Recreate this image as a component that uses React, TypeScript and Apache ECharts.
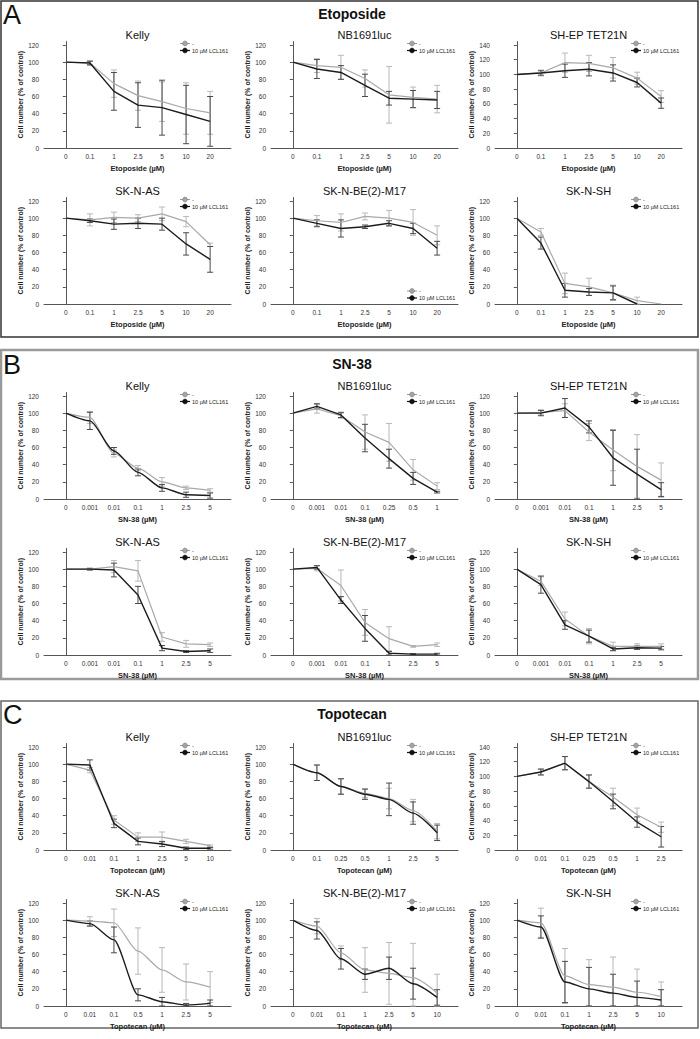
import React, { useEffect, useRef } from "react";
import * as echarts from "echarts";

// ---------- categories (x tick labels) ----------
const etoCats = ["0", "0.1", "1", "2.5", "5", "10", "20"];
const snCats = ["0", "0.001", "0.01", "0.1", "1", "2.5", "5"];
const snNbCats = ["0", "0.001", "0.01", "0.1", "0.25", "0.5", "1"];
const topoCats = ["0", "0.01", "0.1", "1", "2.5", "5", "10"];
const topoNbCats = ["0", "0.1", "0.25", "0.5", "1", "2.5", "5"];
const topoShepCats = ["0", "0.01", "0.1", "0.25", "0.5", "1", "2.5"];
const topoAsCats = ["0", "0.01", "0.1", "0.5", "1", "2.5", "5"];

// ---------- A: Etoposide ----------
const aKellyCtrl = [100, 99, 75, 61, 54, 46, 41];
const aKellyCtrlErr = [0, 3, 16, 17, 23, 30, 25];
const aKellyLcl = [100, 99, 66, 50, 47, 39, 31];
const aKellyLclErr = [0, 2, 22, 26, 32, 34, 29];

const aNbCtrl = [100, 96, 94, 81, 62, 59, 57];
const aNbCtrlErr = [0, 8, 14, 10, 33, 12, 16];
const aNbLcl = [100, 92, 88, 73, 58, 57, 56];
const aNbLclErr = [0, 11, 8, 13, 8, 10, 10];

const aShepCtrl = [100, 102, 116, 115, 109, 95, 70];
const aShepCtrlErr = [0, 4, 13, 11, 14, 8, 8];
const aShepLcl = [100, 102, 105, 107, 102, 89, 61];
const aShepLclErr = [0, 3, 9, 9, 11, 6, 7];

const aAsCtrl = [100, 98, 101, 100, 105, 96, 69];
const aAsCtrlErr = [0, 7, 6, 4, 8, 6, 2];
const aAsLcl = [100, 97, 93, 94, 93, 70, 52];
const aAsLclErr = [0, 2, 6, 6, 7, 13, 15];

const aBeCtrl = [100, 97, 95, 102, 100, 95, 80];
const aBeCtrlErr = [0, 6, 10, 4, 9, 15, 11];
const aBeLcl = [100, 94, 88, 90, 94, 88, 65];
const aBeLclErr = [0, 4, 10, 2, 3, 6, 8];

const aShCtrl = [100, 84, 24, 20, 13, 4, 0];
const aShCtrlErr = [0, 4, 12, 10, 9, 4, 0];
const aShLcl = [100, 71, 16, 14, 13, 0, null];
const aShLclErr = [0, 7, 8, 4, 8, 0, 0];

// ---------- B: SN-38 ----------
const bKellyCtrl = [100, 95, 53, 36, 20, 13, 10];
const bKellyCtrlErr = [0, 7, 4, 3, 5, 2, 2];
const bKellyLcl = [100, 91, 56, 31, 13, 5, 4];
const bKellyLclErr = [0, 10, 4, 4, 4, 3, 3];

const bNbCtrl = [100, 105, 97, 78, 66, 34, 15];
const bNbCtrlErr = [0, 5, 3, 20, 22, 12, 4];
const bNbLcl = [100, 108, 98, 71, 47, 24, 8];
const bNbLclErr = [0, 3, 3, 16, 11, 7, 1];

const bShepCtrl = [100, 101, 103, 78, 57, 38, 22];
const bShepCtrlErr = [0, 3, 8, 10, 24, 37, 20];
const bShepLcl = [100, 100, 106, 84, 48, 29, 11];
const bShepLclErr = [0, 3, 11, 7, 32, 29, 8];

const bAsCtrl = [100, 100, 103, 98, 21, 13, 12];
const bAsCtrlErr = [0, 1, 7, 12, 5, 4, 2];
const bAsLcl = [100, 100, 99, 70, 8, 4, 5];
const bAsLclErr = [0, 1, 8, 10, 3, 1, 2];

const bBeCtrl = [100, 101, 81, 38, 19, 10, 12];
const bBeCtrlErr = [0, 3, 18, 15, 14, 1, 2];
const bBeLcl = [100, 102, 64, 31, 2, 1, 1];
const bBeLclErr = [0, 2, 4, 15, 2, 0.5, 1];

const bShCtrl = [100, 86, 42, 22, 10, 10, 10];
const bShCtrlErr = [0, 5, 8, 9, 5, 3, 3];
const bShLcl = [100, 82, 35, 22, 7, 8.5, 8];
const bShLclErr = [0, 10, 5, 7, 2, 2, 2];

// ---------- C: Topotecan ----------
const cKellyCtrl = [100, 93, 35, 15, 15, 10, 5];
const cKellyCtrlErr = [0, 3, 5, 5, 6, 2.5, 1];
const cKellyLcl = [100, 99, 31, 10, 7, 2, 2];
const cKellyLclErr = [0, 6, 5, 4, 3, 1.5, 1];

const cNbCtrl = [100, 90, 74, 66, 60, 46, 22];
const cNbCtrlErr = [0, 9, 9, 5, 12, 13, 9];
const cNbLcl = [100, 90, 74, 65, 59, 43, 20];
const cNbLclErr = [0, 9, 9, 6, 19, 13, 9];

const cShepCtrl = [100, 106, 118, 93, 72, 48, 31];
const cShepCtrlErr = [0, 4, 9, 9, 12, 9, 7];
const cShepLcl = [100, 106, 118, 93, 66, 38, 18];
const cShepLclErr = [0, 4, 9, 9, 10, 7, 14];

const cAsCtrl = [100, 99, 97, 64, 42, 28, 22];
const cAsCtrlErr = [0, 5, 16, 27, 26, 21, 18];
const cAsLcl = [100, 96, 77, 13, 5, 1, 3];
const cAsLclErr = [0, 3, 15, 7, 5, 2, 4];

const cBeCtrl = [100, 93, 62, 42, 38, 33, 15];
const cBeCtrlErr = [0, 9, 8, 26, 36, 40, 22];
const cBeLcl = [100, 88, 55, 37, 44, 26, 10];
const cBeLclErr = [0, 10, 12, 6, 13, 18, 9];

const cShCtrl = [100, 97, 35, 25, 22, 16, 11];
const cShCtrlErr = [0, 17, 32, 29, 35, 27, 17];
const cShLcl = [100, 92, 28, 20, 15, 10, 7];
const cShLclErr = [0, 13, 24, 25, 22, 19, 12];

const sectionLetters = ["A", "B", "C"];
const sectionTitles = ["Etoposide", "SN-38", "Topotecan"];
const ctrlName = "-";
const lclName = "10 µM LCL161";
const yName = "Cell number (% of control)";

type Panel = {
  title: string; cats: string[]; xName: string; yMax: number; smooth: boolean; legendBottom?: boolean;
  ctrl: (number | null)[]; ctrlErr: number[]; lcl: (number | null)[]; lclErr: number[];
};

const E = "Etoposide (µM)", S = "SN-38 (µM)", T = "Topotecan (µM)";
const panels: Panel[] = [
  { title: "Kelly", cats: etoCats, xName: E, yMax: 120, smooth: false, ctrl: aKellyCtrl, ctrlErr: aKellyCtrlErr, lcl: aKellyLcl, lclErr: aKellyLclErr },
  { title: "NB1691luc", cats: etoCats, xName: E, yMax: 120, smooth: false, ctrl: aNbCtrl, ctrlErr: aNbCtrlErr, lcl: aNbLcl, lclErr: aNbLclErr },
  { title: "SH-EP TET21N", cats: etoCats, xName: E, yMax: 140, smooth: false, ctrl: aShepCtrl, ctrlErr: aShepCtrlErr, lcl: aShepLcl, lclErr: aShepLclErr },
  { title: "SK-N-AS", cats: etoCats, xName: E, yMax: 120, smooth: false, ctrl: aAsCtrl, ctrlErr: aAsCtrlErr, lcl: aAsLcl, lclErr: aAsLclErr },
  { title: "SK-N-BE(2)-M17", cats: etoCats, xName: E, yMax: 120, smooth: false, legendBottom: true, ctrl: aBeCtrl, ctrlErr: aBeCtrlErr, lcl: aBeLcl, lclErr: aBeLclErr },
  { title: "SK-N-SH", cats: etoCats, xName: E, yMax: 120, smooth: false, ctrl: aShCtrl, ctrlErr: aShCtrlErr, lcl: aShLcl, lclErr: aShLclErr },

  { title: "Kelly", cats: snCats, xName: S, yMax: 120, smooth: true, ctrl: bKellyCtrl, ctrlErr: bKellyCtrlErr, lcl: bKellyLcl, lclErr: bKellyLclErr },
  { title: "NB1691luc", cats: snNbCats, xName: S, yMax: 120, smooth: false, ctrl: bNbCtrl, ctrlErr: bNbCtrlErr, lcl: bNbLcl, lclErr: bNbLclErr },
  { title: "SH-EP TET21N", cats: snCats, xName: S, yMax: 120, smooth: false, ctrl: bShepCtrl, ctrlErr: bShepCtrlErr, lcl: bShepLcl, lclErr: bShepLclErr },
  { title: "SK-N-AS", cats: snCats, xName: S, yMax: 120, smooth: false, ctrl: bAsCtrl, ctrlErr: bAsCtrlErr, lcl: bAsLcl, lclErr: bAsLclErr },
  { title: "SK-N-BE(2)-M17", cats: snCats, xName: S, yMax: 120, smooth: false, ctrl: bBeCtrl, ctrlErr: bBeCtrlErr, lcl: bBeLcl, lclErr: bBeLclErr },
  { title: "SK-N-SH", cats: snCats, xName: S, yMax: 120, smooth: false, ctrl: bShCtrl, ctrlErr: bShCtrlErr, lcl: bShLcl, lclErr: bShLclErr },

  { title: "Kelly", cats: topoCats, xName: T, yMax: 120, smooth: false, ctrl: cKellyCtrl, ctrlErr: cKellyCtrlErr, lcl: cKellyLcl, lclErr: cKellyLclErr },
  { title: "NB1691luc", cats: topoNbCats, xName: T, yMax: 120, smooth: true, ctrl: cNbCtrl, ctrlErr: cNbCtrlErr, lcl: cNbLcl, lclErr: cNbLclErr },
  { title: "SH-EP TET21N", cats: topoShepCats, xName: T, yMax: 140, smooth: false, ctrl: cShepCtrl, ctrlErr: cShepCtrlErr, lcl: cShepLcl, lclErr: cShepLclErr },
  { title: "SK-N-AS", cats: topoAsCats, xName: T, yMax: 120, smooth: true, ctrl: cAsCtrl, ctrlErr: cAsCtrlErr, lcl: cAsLcl, lclErr: cAsLclErr },
  { title: "SK-N-BE(2)-M17", cats: topoCats, xName: T, yMax: 120, smooth: true, ctrl: cBeCtrl, ctrlErr: cBeCtrlErr, lcl: cBeLcl, lclErr: cBeLclErr },
  { title: "SK-N-SH", cats: topoCats, xName: T, yMax: 120, smooth: true, ctrl: cShCtrl, ctrlErr: cShCtrlErr, lcl: cShLcl, lclErr: cShLclErr },
];

// ---------- layout ----------
const FONT = "'Liberation Sans', Arial, Helvetica, sans-serif";
const COL_X = [44, 271, 495];
const PW = 187;
const ZERO_Y = [148, 304, 499, 655, 850, 1006];
const TICK_H = 103;
const EXTRA = 3.5;
const XMIN = -0.909;
const XMAX = 6.868;
const SECTION_Y = [14, 364, 714];
const SECTION_BOX = [
  { y: 1, h: 336, stroke: "#333", w: 1.5 },
  { y: 350, h: 329, stroke: "#9a9a9a", w: 2.5 },
  { y: 701, h: 327, stroke: "#666", w: 1.5 },
];

const CTRL_LINE = "#a9a9a9";
const CTRL_ERR = "#b8b8b8";
const LCL_LINE = "#1c1c1c";
const LCL_ERR = "#4a4a4a";

function errSeries(i: number, name: string, mean: (number | null)[], err: number[], color: string) {
  const data: number[][] = [];
  mean.forEach((m, k) => {
    if (m == null || !err[k]) return;
    data.push([k, Math.max(0, m - err[k]), m + err[k]]);
  });
  return {
    type: "custom",
    name,
    xAxisIndex: i,
    yAxisIndex: i,
    silent: true,
    z: 2,
    data,
    renderItem: (params: any, api: any) => {
      const x = api.value(0);
      const lo = api.coord([x, api.value(1)]);
      const hi = api.coord([x, api.value(2)]);
      const w = 3;
      const st = { stroke: color, lineWidth: 1 };
      return {
        type: "group",
        children: [
          { type: "line", shape: { x1: lo[0], y1: lo[1], x2: hi[0], y2: hi[1] }, style: st },
          { type: "line", shape: { x1: lo[0] - w, y1: lo[1], x2: lo[0] + w, y2: lo[1] }, style: st },
          { type: "line", shape: { x1: hi[0] - w, y1: hi[1], x2: hi[0] + w, y2: hi[1] }, style: st },
        ],
      };
    },
  };
}

function lineSeries(i: number, name: string, mean: (number | null)[], color: string, width: number, smooth: boolean) {
  const data: number[][] = [];
  mean.forEach((m, k) => {
    if (m != null) data.push([k, m]);
  });
  return {
    type: "line",
    name,
    xAxisIndex: i,
    yAxisIndex: i,
    symbol: "none",
    smooth: smooth ? 0.25 : false,
    smoothMonotone: "x",
    z: 3,
    lineStyle: { color, width },
    data,
  };
}

function buildOption() {
  const grid: any[] = [];
  const xAxis: any[] = [];
  const yAxis: any[] = [];
  const series: any[] = [];
  const graphic: any[] = [];

  SECTION_BOX.forEach((b, s) => {
    graphic.push({
      type: "rect",
      shape: { x: 1, y: b.y, width: 697, height: b.h },
      style: { fill: "none", stroke: b.stroke, lineWidth: b.w },
      silent: true,
    });
    graphic.push({
      type: "text",
      x: 3,
      y: SECTION_Y[s] + 1,
      style: { text: sectionLetters[s], fontSize: 27, fontFamily: FONT, fill: "#111", align: "left", verticalAlign: "middle" },
    });
    graphic.push({
      type: "text",
      x: 352,
      y: SECTION_Y[s],
      style: { text: sectionTitles[s], fontSize: 14, fontWeight: "bold", fontFamily: FONT, fill: "#111", align: "center", verticalAlign: "middle" },
    });
  });

  panels.forEach((p, i) => {
    const row = Math.floor(i / 3);
    const col = i % 3;
    const left = COL_X[col];
    const zero = ZERO_Y[row];
    const tickTop = zero - TICK_H;
    const top = tickTop - EXTRA;
    const h = TICK_H + EXTRA;
    grid.push({ left, top, width: PW, height: h });

    const ticks: number[] = [];
    for (let v = 0; v <= p.yMax; v += 20) ticks.push(v);
    const xVals = p.cats.map((_, k) => k);

    xAxis.push({
      type: "value",
      gridIndex: i,
      min: XMIN,
      max: XMAX,
      name: p.xName,
      nameLocation: "middle",
      nameGap: 16,
      nameTextStyle: { fontSize: 7.5, fontWeight: "bold", color: "#222", fontFamily: FONT },
      axisLine: { show: true, onZero: false, lineStyle: { color: "#555", width: 1 } },
      axisTick: { show: false },
      splitLine: { show: false },
      axisLabel: {
        customValues: xVals,
        formatter: (v: number) => p.cats[Math.round(v)] ?? "",
        fontSize: 6.5,
        color: "#333",
        margin: 5,
        fontFamily: FONT,
      },
    });

    yAxis.push({
      type: "value",
      gridIndex: i,
      min: 0,
      max: (p.yMax * h) / TICK_H,
      name: yName,
      nameLocation: "middle",
      nameGap: 19,
      nameTextStyle: { fontSize: 7, fontWeight: "bold", color: "#222", fontFamily: FONT },
      axisLine: { show: true, lineStyle: { color: "#555", width: 1 } },
      axisTick: { show: true, length: 3, customValues: ticks, lineStyle: { color: "#555" } },
      splitLine: { show: false },
      axisLabel: { customValues: ticks, fontSize: 6.5, color: "#333", margin: 5, fontFamily: FONT },
    });

    series.push(errSeries(i, ctrlName, p.ctrl, p.ctrlErr, CTRL_ERR));
    series.push(errSeries(i, lclName, p.lcl, p.lclErr, LCL_ERR));
    series.push(lineSeries(i, ctrlName, p.ctrl, CTRL_LINE, 1.2, p.smooth));
    series.push(lineSeries(i, lclName, p.lcl, LCL_LINE, 1.4, p.smooth));

    // panel title
    graphic.push({
      type: "text",
      x: left + PW / 2,
      y: zero - 113,
      style: { text: p.title, fontSize: 11, fontFamily: FONT, fill: "#111", align: "center", verticalAlign: "middle" },
    });

    // legend
    const lx = left + PW - 46;
    const ly = p.legendBottom ? zero - 13 : tickTop - 1.5;
    graphic.push(
      { type: "line", shape: { x1: lx - 5, y1: ly, x2: lx + 5, y2: ly }, style: { stroke: "#999", lineWidth: 1 } },
      { type: "circle", shape: { cx: lx, cy: ly, r: 2.4 }, style: { fill: "#a5a5a5", stroke: "#777", lineWidth: 0.6 } },
      { type: "text", x: lx + 7, y: ly, style: { text: ctrlName, fontSize: 5.5, fontFamily: FONT, fill: "#222", align: "left", verticalAlign: "middle" } },
      { type: "line", shape: { x1: lx - 5, y1: ly + 7, x2: lx + 5, y2: ly + 7 }, style: { stroke: "#111", lineWidth: 1.2 } },
      { type: "circle", shape: { cx: lx, cy: ly + 7, r: 2.4 }, style: { fill: "#111", stroke: "#111", lineWidth: 0.6 } },
      { type: "text", x: lx + 7, y: ly + 7, style: { text: lclName, fontSize: 5.5, fontFamily: FONT, fill: "#222", align: "left", verticalAlign: "middle" } }
    );
  });

  return {
    animation: false,
    backgroundColor: "#ffffff",
    textStyle: { fontFamily: FONT },
    grid,
    xAxis,
    yAxis,
    series,
    graphic,
  };
}

export default function App() {
  const ref = useRef<HTMLDivElement>(null);
  useEffect(() => {
    document.body.style.margin = "0";
    const chart = echarts.init(ref.current as HTMLDivElement, null, { renderer: "svg" });
    chart.setOption(buildOption() as any);
    return () => chart.dispose();
  }, []);
  return <div ref={ref} style={{ width: 700, height: 1039 }} />;
}
